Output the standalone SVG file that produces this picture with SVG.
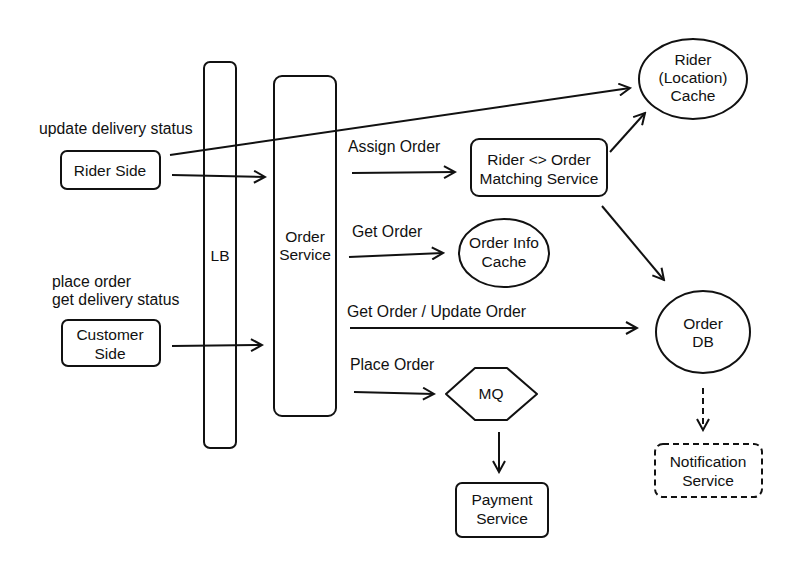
<svg xmlns="http://www.w3.org/2000/svg" width="800" height="561" viewBox="0 0 800 561">
<style>
.n{fill:none;stroke:#111;stroke-width:2}
.t{font-family:"Liberation Sans",Arial,sans-serif;font-size:15.5px;fill:#111;text-anchor:middle}
.l{font-family:"Liberation Sans",Arial,sans-serif;font-size:15.8px;fill:#111}
.c{fill:none;stroke:#111;stroke-width:2;marker-end:url(#a)}
</style>
<defs><marker id="a" markerWidth="14" markerHeight="14" refX="12" refY="7" orient="auto" markerUnits="userSpaceOnUse"><path d="M1,1 L12,7 L1,13" fill="none" stroke="#111" stroke-width="2"/></marker></defs>
<rect width="800" height="561" fill="#fff"/>
<g id="lb"><rect class="n" x="204" y="62" width="32" height="386" rx="6"/><text class="t" x="220" y="261">LB</text></g>
<g id="order-service"><rect class="n" x="274" y="76" width="62" height="340" rx="8"/><text class="t" x="305" y="242">Order</text><text class="t" x="305" y="260">Service</text></g>
<g id="rider-side"><rect class="n" x="61" y="151" width="99" height="38" rx="6"/><text class="t" x="110" y="176">Rider Side</text></g>
<g id="customer-side"><rect class="n" x="62" y="320" width="98" height="46" rx="6"/><text class="t" x="110" y="340">Customer</text><text class="t" x="110" y="359">Side</text></g>
<g id="rider-cache"><ellipse class="n" cx="693" cy="79" rx="54" ry="40"/><text class="t" x="693" y="65">Rider</text><text class="t" x="693" y="83">(Location)</text><text class="t" x="693" y="101">Cache</text></g>
<g id="matching"><rect class="n" x="471" y="139" width="136" height="57" rx="8"/><text class="t" x="539" y="165">Rider &lt;&gt; Order</text><text class="t" x="539" y="184">Matching Service</text></g>
<g id="order-info-cache"><ellipse class="n" cx="504" cy="253" rx="45" ry="34"/><text class="t" x="504" y="248">Order Info</text><text class="t" x="504" y="267">Cache</text></g>
<g id="order-db"><ellipse class="n" cx="703" cy="332" rx="47" ry="41"/><text class="t" x="703" y="329">Order</text><text class="t" x="703" y="347">DB</text></g>
<g id="mq"><path class="n" d="M446,394 L475,368 L507,368 L537,394 L507,420 L475,420 Z" stroke-linejoin="round"/><text class="t" x="491" y="399">MQ</text></g>
<g id="payment"><rect class="n" x="456" y="483" width="92" height="54" rx="6"/><text class="t" x="502" y="505">Payment</text><text class="t" x="502" y="524">Service</text></g>
<g id="notification"><rect class="n" x="655" y="444" width="107" height="53" rx="8" stroke-dasharray="6,4"/><text class="t" x="708" y="467">Notification</text><text class="t" x="708" y="486">Service</text></g>
<g id="labels">
<text class="l" x="39" y="134">update delivery status</text>
<text class="l" x="52" y="287">place order</text>
<text class="l" x="52" y="305">get delivery status</text>
<text class="l" x="348" y="152">Assign Order</text>
<text class="l" x="352" y="237">Get Order</text>
<text class="l" x="347" y="317">Get Order / Update Order</text>
<text class="l" x="350" y="370">Place Order</text>
</g>
<g id="connectors">
<line class="c" x1="170" y1="155" x2="630" y2="88"/>
<line class="c" x1="172" y1="175" x2="265" y2="177"/>
<line class="c" x1="172" y1="346" x2="262" y2="345"/>
<line class="c" x1="352" y1="173" x2="455" y2="172"/>
<line class="c" x1="349" y1="257" x2="443" y2="253"/>
<line class="c" x1="350" y1="328" x2="637" y2="328"/>
<line class="c" x1="354" y1="392" x2="434" y2="394"/>
<line class="c" x1="610" y1="152" x2="645" y2="113"/>
<line class="c" x1="602" y1="206" x2="664" y2="280"/>
<line class="c" x1="499" y1="432" x2="499" y2="472"/>
<line class="c" x1="703" y1="388" x2="703" y2="430" stroke-dasharray="6,4"/>
</g>
</svg>
